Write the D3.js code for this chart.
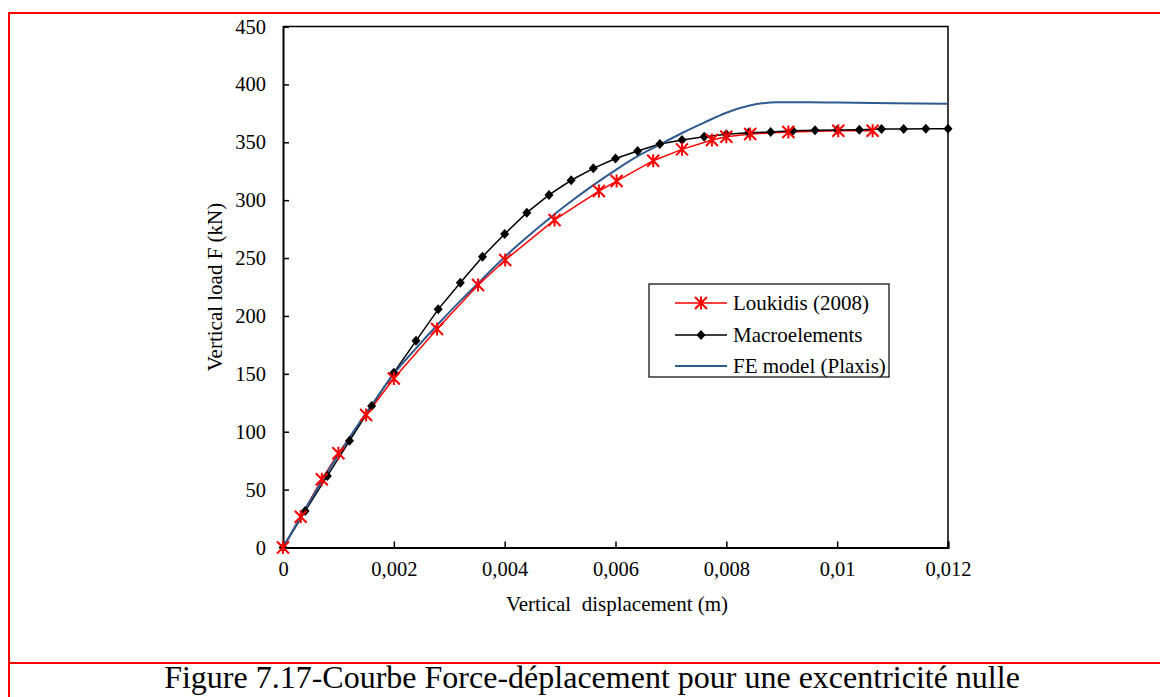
<!DOCTYPE html>
<html>
<head>
<meta charset="utf-8">
<script src="https://cdn.jsdelivr.net/npm/d3@7"></script>
<style>
  html, body { margin: 0; padding: 0; background: #fff; }
  svg { display: block; }
  text { font-family: "Liberation Serif", "Times New Roman", serif; fill: #000; }
</style>
</head>
<body>
<svg id="chart" width="1160" height="697"></svg>
<script>
// Loukidis (2008) reference results: displacement (m) and load (kN)
const loukidisDisp = [0, 0.00032, 0.0007, 0.001, 0.0015, 0.002, 0.00278, 0.00352, 0.00401, 0.0049,
  0.0057, 0.00602, 0.00668, 0.0072, 0.00774, 0.008, 0.00843, 0.00912, 0.01002, 0.01064];
const loukidisLoad = [0, 26.6, 58.9, 81.4, 114.4, 146, 188.7, 226.7, 248.3, 282.9,
  307.9, 316.5, 334.1, 343.9, 352.0, 354.8, 357.1, 358.9, 360.0, 360.0];

// Macroelement model
const macroDisp = [0, 0.0004, 0.0008, 0.0012, 0.0016, 0.002, 0.0024, 0.0028, 0.0032, 0.0036,
  0.004, 0.0044, 0.0048, 0.0052, 0.0056, 0.006, 0.0064, 0.0068, 0.0072, 0.0076,
  0.008, 0.0084, 0.0088, 0.0092, 0.0096, 0.01, 0.0104, 0.0108, 0.0112, 0.0116, 0.012];
const macroLoad = [0, 31.5, 61.8, 92.2, 122.2, 151, 178.5, 205.7, 228.7, 251.2,
  270.8, 289.2, 304.5, 317.2, 327.5, 336.0, 342.5, 348.5, 352.0, 354.8,
  356.9, 358.3, 358.9, 360.0, 360.3, 360.6, 360.9, 361.5, 361.5, 361.7, 361.7];

// Finite element model (Plaxis)
const feDisp = [0, 0.0004, 0.0008, 0.0012, 0.0016, 0.002, 0.0024, 0.0028, 0.0032, 0.0036,
  0.004, 0.0044, 0.0048, 0.0052, 0.0056, 0.006, 0.0064, 0.0068, 0.0072, 0.0076,
  0.008, 0.0084, 0.0087, 0.0089, 0.0095, 0.01, 0.011, 0.012];
const feLoad = [0, 33, 65, 95, 123, 150, 172, 193, 213, 232,
  251, 268, 284, 299, 313, 326, 338, 348, 358, 367,
  375.5, 381.5, 384.0, 384.5, 384.5, 384.3, 383.8, 383.2];

const xTicks = [0, 0.002, 0.004, 0.006, 0.008, 0.01, 0.012];
const xTickLabels = ["0", "0,002", "0,004", "0,006", "0,008", "0,01", "0,012"];
const yTicks = [0, 50, 100, 150, 200, 250, 300, 350, 400, 450];

const seriesNames = ["Loukidis (2008)", "Macroelements", "FE model (Plaxis)"];
const xTitle = "Vertical  displacement (m)";
const yTitle = "Vertical load F (kN)";
const caption = "Figure 7.17-Courbe Force-déplacement pour une excentricité nulle";

const RED = "#ff0000", BLACK = "#000000", BLUE = "#2f5a8f";

const svg = d3.select("#chart");

// page frame
svg.append("line").attr("x1", 9).attr("x2", 1160).attr("y1", 13).attr("y2", 13)
  .attr("stroke", RED).attr("stroke-width", 2);
svg.append("line").attr("x1", 9).attr("x2", 9).attr("y1", 12).attr("y2", 697)
  .attr("stroke", RED).attr("stroke-width", 2);
svg.append("line").attr("x1", 9).attr("x2", 1160).attr("y1", 663).attr("y2", 663)
  .attr("stroke", RED).attr("stroke-width", 2);

const plot = { left: 283, right: 948, top: 26.5, bottom: 547.5 };
const x = d3.scaleLinear().domain([0, 0.012]).range([plot.left, plot.right]);
const y = d3.scaleLinear().domain([0, 450]).range([plot.bottom, plot.top]);

// plot frame (top and right)
svg.append("path")
  .attr("d", `M${plot.left},${plot.top}H${plot.right}V${plot.bottom}`)
  .attr("fill", "none").attr("stroke", "#000").attr("stroke-width", 1.5);

// axes with inward ticks
const xAxis = d3.axisBottom(x).tickValues(xTicks).tickSize(-6).tickPadding(14)
  .tickFormat((d, i) => xTickLabels[i]);
const gx = svg.append("g").attr("transform", `translate(0,${plot.bottom})`).call(xAxis);
const yAxis = d3.axisLeft(y).tickValues(yTicks).tickSize(-6).tickPadding(17);
const gy = svg.append("g").attr("transform", `translate(${plot.left},0)`).call(yAxis);

[gx, gy].forEach(g => {
  g.select(".domain").attr("stroke", "#000").attr("stroke-width", 2);
  g.selectAll(".tick line").attr("stroke", "#000").attr("stroke-width", 1.5);
  g.selectAll(".tick text").attr("font-family", "Liberation Serif, serif")
    .attr("font-size", 20.5).attr("fill", "#000");
});
gx.selectAll(".tick text").attr("dy", "0.71em");

// axis titles
svg.append("text").attr("x", 617).attr("y", 611).attr("text-anchor", "middle")
  .attr("font-size", 21).style("white-space", "pre").text(xTitle);
svg.append("text").attr("transform", "translate(222,287) rotate(-90)")
  .attr("text-anchor", "middle").attr("font-size", 21).text(yTitle);

// caption
svg.append("text").attr("x", 592).attr("y", 688).attr("text-anchor", "middle")
  .attr("font-size", 32).text(caption);

const line = d3.line().x(d => x(d[0])).y(d => y(d[1]));
const fePts = feDisp.map((d, i) => [d, feLoad[i]]);
const macroPts = macroDisp.map((d, i) => [d, macroLoad[i]]);
const loukPts = loukidisDisp.map((d, i) => [d, loukidisLoad[i]]);

const feLine = d3.line().x(d => x(d[0])).y(d => y(d[1])).curve(d3.curveMonotoneX);

svg.append("path").datum(loukPts).attr("d", line)
  .attr("fill", "none").attr("stroke", RED).attr("stroke-width", 1.5);
svg.append("path").datum(macroPts).attr("d", line)
  .attr("fill", "none").attr("stroke", BLACK).attr("stroke-width", 1.5);
svg.append("path").datum(fePts).attr("d", feLine)
  .attr("fill", "none").attr("stroke", BLUE).attr("stroke-width", 2);

// marker shapes
function diamond(g, cx, cy) {
  g.append("path").attr("d", `M${cx},${cy - 5}L${cx + 4.5},${cy}L${cx},${cy + 5}L${cx - 4.5},${cy}Z`)
    .attr("fill", BLACK);
}
function star(g, cx, cy) {
  const a = 6;
  g.append("path")
    .attr("d", `M${cx - a},${cy - a}L${cx + a},${cy + a}M${cx - a},${cy + a}L${cx + a},${cy - a}M${cx},${cy - 6.5}V${cy + 6.5}`)
    .attr("stroke", RED).attr("stroke-width", 2).attr("fill", "none");
}

const mg = svg.append("g");
macroPts.forEach(p => diamond(mg, x(p[0]), y(p[1])));
const sg = svg.append("g");
loukPts.forEach(p => star(sg, x(p[0]), y(p[1])));

// legend
const lg = svg.append("g");
lg.append("rect").attr("x", 649).attr("y", 284).attr("width", 240).attr("height", 93)
  .attr("fill", "#fff").attr("stroke", "#000").attr("stroke-width", 1.2);
const rowsY = [303, 335, 366];
const colors = [RED, BLACK, BLUE];
rowsY.forEach((ry, i) => {
  lg.append("line").attr("x1", 675).attr("x2", 727).attr("y1", ry).attr("y2", ry)
    .attr("stroke", colors[i]).attr("stroke-width", i === 2 ? 2 : 1.5);
  if (i === 0) star(lg, 701, ry);
  if (i === 1) diamond(lg, 701, ry);
  lg.append("text").attr("x", 733).attr("y", ry + 7).attr("font-size", 21).text(seriesNames[i]);
});
</script>
</body>
</html>
